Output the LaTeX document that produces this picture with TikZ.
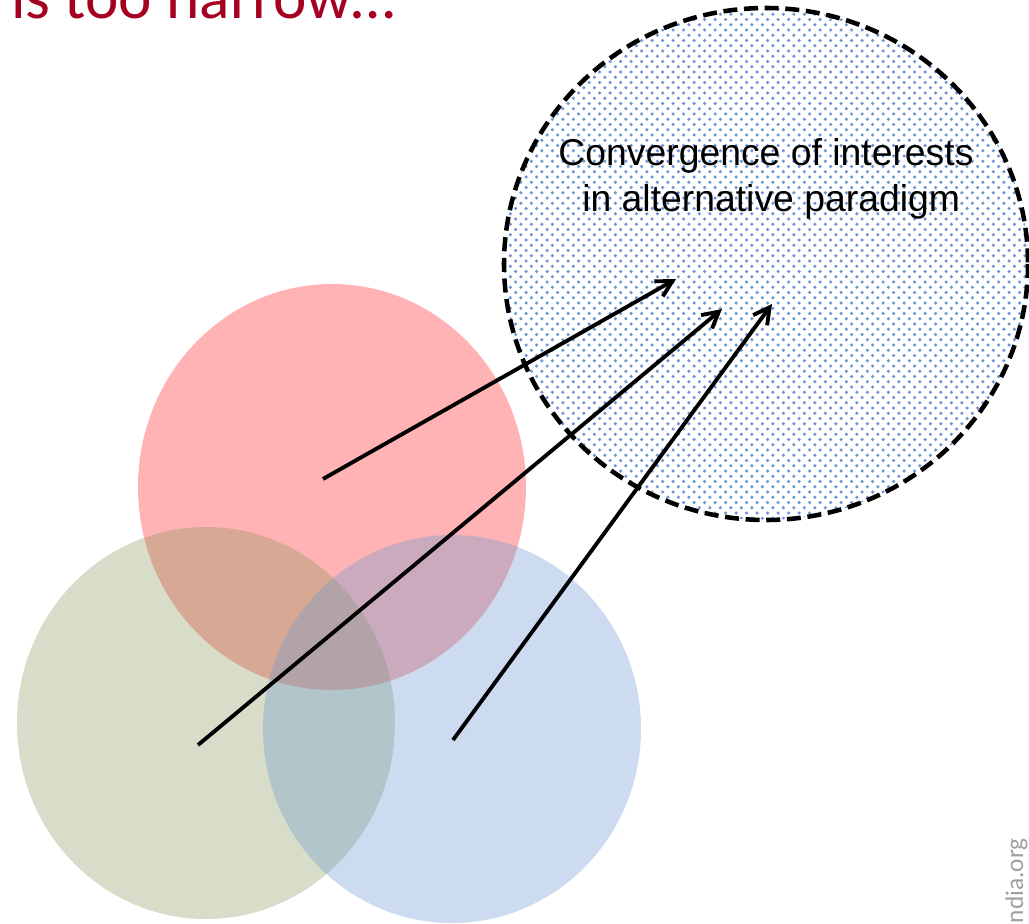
\documentclass[tikz,border=0pt]{standalone}
\usepackage{fontspec}
\setmainfont{Liberation Sans}
\newfontfamily\calib{Carlito}
\usetikzlibrary{arrows.meta}
\definecolor{titlered}{RGB}{165,0,33}
\definecolor{redc}{RGB}{255,179,180}
\definecolor{greenc}{RGB}{125,145,75}
\definecolor{bluec}{RGB}{109,154,211}
\definecolor{dotc}{RGB}{110,150,212}
\definecolor{sitegray}{RGB}{160,160,160}
\begin{document}
\begin{tikzpicture}[x=0.75pt,y=-0.75pt,
  arr/.style={line width=2.9pt,-{Straight Barb[length=12pt,width=13pt]}},
  dashring/.style={line width=3.4pt,dash pattern=on 10.5pt off 5pt},
  convtext/.style={align=center,inner sep=0pt,font=\fontsize{28}{34}\selectfont}]
\useasboundingbox (0,0) rectangle (1029,924);
\fill[white] (0,0) rectangle (1029,924);
% three circles
\fill[redc] (332,487) ellipse [x radius=194, y radius=203];
\fill[greenc, opacity=0.3] (206,723) ellipse [x radius=189, y radius=196];
\fill[bluec, opacity=0.35] (452,729) ellipse [x radius=189, y radius=194];
% dotted ellipse
\begin{scope}
\clip (766,264) ellipse [x radius=262, y radius=256];
\foreach \i in {0,...,50}{
  \fill[dotc] \foreach \j in {0,...,49}{ (505+\i*10.5, 9+\j*10.5) circle[radius=1.75] (510.25+\i*10.5, 14.25+\j*10.5) circle[radius=1.75] };
}
\end{scope}
\draw[dashring] (766,264) ellipse [x radius=262, y radius=256];
\node[convtext, anchor=base] (conv) at (766,211) {Convergence of interests\\\ in alternative paradigm};
% arrows
\coordinate (r0) at (323,479); \coordinate (r1) at (676,279);
\coordinate (g0) at (198,745); \coordinate (g1) at (722,309);
\coordinate (b0) at (453,740); \coordinate (b1) at (772,304);
\draw[arr] (r0) -- (r1);
\draw[arr] (g0) -- (g1);
\draw[arr] (b0) -- (b1);
% texts
\node[anchor=base west, inner sep=0pt, text=titlered, font=\calib\fontsize{47.5}{52}\selectfont] (title) at (11,19) {is too narrow…};
\node[rotate=90, anchor=base east, inner sep=0pt, text=sitegray, font=\calib\fontsize{19}{22}\selectfont] (site) at (1023,838) {ndia.org};
\end{tikzpicture}
\end{document}
